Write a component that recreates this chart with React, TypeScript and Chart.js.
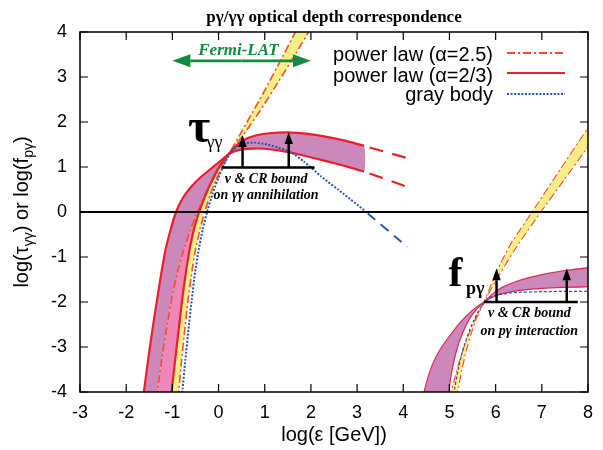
import React, { useEffect, useRef } from 'react';
import { Chart, registerables } from 'chart.js';

Chart.register(...registerables);

// ---------- axis ticks ----------
const xTicks = [-3, -2, -1, 0, 1, 2, 3, 4, 5, 6, 7, 8];
const yTicks = [-4, -3, -2, -1, 0, 1, 2, 3, 4];

// ---------- tau_gamma-gamma : power law alpha=2/3 (solid red band) ----------
const tauLowX = [-1.7, -1.61, -1.5, -1.39, -1.27, -1.16, -1.04, -0.92, -0.78, -0.6, -0.4, -0.18, 0.0, 0.2, 0.32, 0.5, 0.75, 1.0, 1.3, 1.7, 2.1, 2.6, 3.15];
const tauLowY = [-4.6, -3.94, -3.1, -2.33, -1.55, -0.9, -0.4, 0.0, 0.3, 0.55, 0.76, 0.95, 1.1, 1.27, 1.34, 1.39, 1.41, 1.405, 1.37, 1.29, 1.19, 1.06, 0.9];
const tauHighX = [-1.06, -1.01, -0.93, -0.85, -0.77, -0.69, -0.61, -0.52, -0.42, -0.3, -0.16, 0.0, 0.1, 0.2, 0.35, 0.55, 0.8, 1.1, 1.5, 1.9, 2.4, 2.8, 3.15];
const tauHighY = [-4.5, -3.94, -3.2, -2.5, -1.8, -1.22, -0.74, -0.33, 0.0, 0.33, 0.66, 0.98, 1.13, 1.27, 1.44, 1.6, 1.7, 1.75, 1.77, 1.74, 1.66, 1.57, 1.47];
const tauExtX = [3.15, 4.08];
const tauHighExtY = [1.47, 1.2];
const tauLowExtY = [0.9, 0.56];

// ---------- tau : power law alpha=2.5 (dash-dot, yellow band) ----------
const tauSteepAX = [-1.4, -1.32, -1.22, -1.11, -1.0, -0.88, -0.77, -0.62, -0.46, -0.3, -0.12, 0.05, 0.2, 0.4, 0.6, 0.9, 1.3, 1.65, 1.95, 2.15];
const tauSteepAY = [-4.5, -3.94, -3.2, -2.5, -1.85, -1.3, -0.9, -0.42, 0.0, 0.36, 0.72, 1.03, 1.24, 1.52, 1.8, 2.25, 2.9, 3.48, 4.0, 4.35];
const tauSteepBX = [-0.92, -0.86, -0.8, -0.73, -0.66, -0.58, -0.5, -0.4, -0.3, -0.18, -0.05, 0.08, 0.2, 0.33, 0.47, 0.7, 1.0, 1.35, 1.65, 1.82];
const tauSteepBY = [-4.5, -3.94, -3.3, -2.6, -1.95, -1.35, -0.84, -0.38, 0.0, 0.38, 0.72, 1.0, 1.24, 1.48, 1.73, 2.15, 2.7, 3.38, 3.97, 4.3];

// ---------- tau : gray body (blue dotted) ----------
const tauGrayX = [-0.84, -0.78, -0.72, -0.65, -0.58, -0.51, -0.43, -0.34, -0.25, -0.13, 0.0, 0.12, 0.25, 0.4, 0.58, 0.8, 1.05, 1.3, 1.55, 1.85, 2.22, 2.7, 3.15];
const tauGrayY = [-4.5, -3.94, -3.3, -2.6, -1.95, -1.35, -0.84, -0.38, 0.0, 0.4, 0.77, 1.06, 1.3, 1.45, 1.53, 1.54, 1.5, 1.43, 1.34, 1.12, 0.79, 0.41, 0.04];
const tauGrayExtX = [3.15, 4.08];
const tauGrayExtY = [0.04, -0.77];

// ---------- f_p-gamma : power law alpha=2/3 ----------
const fpLowX = [4.36, 4.45, 4.55, 4.66, 4.8, 4.97, 5.22, 5.5, 5.75, 6.0, 6.35, 6.72, 7.3, 8.0];
const fpLowY = [-4.5, -4.0, -3.62, -3.32, -3.05, -2.8, -2.47, -2.18, -2.0, -1.86, -1.77, -1.72, -1.68, -1.66];
const fpHighX = [4.93, 4.98, 5.06, 5.16, 5.28, 5.42, 5.58, 5.75, 5.92, 6.15, 6.43, 6.72, 7.1, 7.5, 8.0];
const fpHighY = [-4.5, -4.0, -3.5, -3.05, -2.7, -2.4, -2.17, -2.0, -1.83, -1.67, -1.55, -1.46, -1.37, -1.3, -1.24];

// ---------- f_p-gamma : power law alpha=2.5 ----------
const fpSteepAX = [4.97, 5.01, 5.1, 5.22, 5.35, 5.48, 5.62, 5.75, 5.92, 6.1, 6.5, 6.98, 7.5, 8.0];
const fpSteepAY = [-4.5, -4.1, -3.75, -3.3, -2.9, -2.55, -2.25, -2.0, -1.68, -1.36, -0.7, 0.0, 0.74, 1.45];
const fpSteepBX = [5.14, 5.18, 5.26, 5.36, 5.47, 5.58, 5.67, 5.75, 5.86, 5.97, 6.15, 6.35, 6.79, 7.4, 8.0];
const fpSteepBY = [-4.5, -4.0, -3.55, -3.1, -2.7, -2.38, -2.18, -2.0, -1.72, -1.45, -1.05, -0.67, 0.0, 0.95, 1.87];

// ---------- f_p-gamma : gray body ----------
const fpGrayX = [5.06, 5.1, 5.18, 5.28, 5.4, 5.52, 5.64, 5.75, 5.88, 6.05, 6.4, 7.0, 8.0];
const fpGrayY = [-4.5, -4.0, -3.55, -3.1, -2.72, -2.42, -2.18, -2.02, -1.9, -1.84, -1.79, -1.77, -1.76];

// ---------- reference line y = 0 ----------
const zeroX = [-3, 8];
const zeroY = [0, 0];

// ---------- bounds / arrows ----------
const tauBoundX = [0.07, 2.08];
const tauBoundY = 0.99;
const tauArrowX = [0.52, 1.52];
const tauArrowTop = [1.71, 1.78];
const fpBoundX = [5.75, 7.78];
const fpBoundY = -2.0;
const fpArrowX = [6.02, 7.54];
const fpArrowTop = [-1.25, -1.25];
const fermiX = [-1.0, 2.0];
const fermiY = 3.36;

// ---------- legend ----------
const legendLabels = ['power law (\u03b1=2.5)', 'power law (\u03b1=2/3)', 'gray body'];

const SANS = '"Liberation Sans", Arial, sans-serif';
const SERIF = '"Liberation Serif", "Times New Roman", serif';

const C_MAGENTA = '#cc88bb';
const C_PINK = '#ee88bb';
const C_YELLOW = '#f8ee88';
const C_RED = '#e8202a';
const C_DASHDOT = '#f0502a';
const C_BLUE = '#2a55b5';
const C_FPEDGE = '#dd2a55';
const C_GREEN = '#168a3e';
const DASHDOT = [8, 3, 2, 3];
const DOTS = [2, 1.6];

const pts = (xs: number[], ys: number[]) => xs.map((x, i) => ({ x, y: ys[i] }));

function polygon(edge1: { x: number; y: number }[], edge2: { x: number; y: number }[]) {
  const a = edge1;
  const b = [...edge2].reverse();
  return [
    { x: -3, y: -12 },
    { x: a[0].x, y: -12 },
    ...a,
    ...b,
    { x: b[b.length - 1].x, y: -12 },
    { x: 8, y: -12 },
  ];
}

function lineDs(data: any[], color: string, width: number, dash: number[] = [], order = 5, extra: any = {}) {
  return {
    data,
    borderColor: color,
    borderWidth: width,
    borderDash: dash,
    backgroundColor: color,
    pointRadius: 0,
    fill: false,
    order,
    ...extra,
  };
}

function fillDs(data: any[], color: string, order: number) {
  return {
    data,
    borderColor: 'transparent',
    borderWidth: 0,
    backgroundColor: color,
    pointRadius: 0,
    fill: 'shape',
    order,
  };
}

const crossIdxA = tauSteepAX.indexOf(0.2);
const crossIdxB = tauHighX.indexOf(0.2);

function arrow(ctx: CanvasRenderingContext2D, x1: number, y1: number, x2: number, y2: number, lw: number, hl: number, hw: number, color: string) {
  const ang = Math.atan2(y2 - y1, x2 - x1);
  const bx = x2 - Math.cos(ang) * hl;
  const by = y2 - Math.sin(ang) * hl;
  ctx.strokeStyle = color;
  ctx.fillStyle = color;
  ctx.lineWidth = lw;
  ctx.beginPath();
  ctx.moveTo(x1, y1);
  ctx.lineTo(bx, by);
  ctx.stroke();
  ctx.beginPath();
  ctx.moveTo(x2, y2);
  ctx.lineTo(bx + Math.sin(ang) * hw, by - Math.cos(ang) * hw);
  ctx.lineTo(bx - Math.sin(ang) * hw, by + Math.cos(ang) * hw);
  ctx.closePath();
  ctx.fill();
}

const decor = {
  id: 'decor',
  afterDatasetsDraw(chart: any) {
    const { ctx, chartArea: a, scales } = chart;
    const X = (v: number) => scales.x.getPixelForValue(v);
    const Y = (v: number) => scales.y.getPixelForValue(v);
    ctx.save();
    // frame
    ctx.strokeStyle = '#000';
    ctx.lineWidth = 1.5;
    ctx.strokeRect(a.left, a.top, a.right - a.left, a.bottom - a.top);
    // inward ticks, all sides
    ctx.lineWidth = 1.2;
    ctx.beginPath();
    for (const v of xTicks) {
      const p = X(v);
      ctx.moveTo(p, a.bottom); ctx.lineTo(p, a.bottom - 8);
      ctx.moveTo(p, a.top); ctx.lineTo(p, a.top + 8);
    }
    for (const v of yTicks) {
      const p = Y(v);
      ctx.moveTo(a.left, p); ctx.lineTo(a.left + 8, p);
      ctx.moveTo(a.right, p); ctx.lineTo(a.right - 8, p);
    }
    ctx.stroke();

    // bound bars
    ctx.lineWidth = 2.5;
    ctx.strokeStyle = '#000';
    ctx.beginPath();
    ctx.moveTo(X(tauBoundX[0]), Y(tauBoundY));
    ctx.lineTo(X(tauBoundX[1]), Y(tauBoundY));
    ctx.moveTo(X(fpBoundX[0]), Y(fpBoundY));
    ctx.lineTo(X(fpBoundX[1]), Y(fpBoundY));
    ctx.stroke();
    tauArrowX.forEach((v, i) => arrow(ctx, X(v), Y(tauBoundY), X(v), Y(tauArrowTop[i]), 2.5, 12, 4.2, '#000'));
    fpArrowX.forEach((v, i) => arrow(ctx, X(v), Y(fpBoundY), X(v), Y(fpArrowTop[i]), 2.5, 12, 4.2, '#000'));

    // Fermi-LAT double arrow
    const fmid = (X(fermiX[0]) + X(fermiX[1])) / 2;
    arrow(ctx, fmid, Y(fermiY), X(fermiX[0]), Y(fermiY), 2.8, 18, 6.5, C_GREEN);
    arrow(ctx, fmid, Y(fermiY), X(fermiX[1]), Y(fermiY), 2.8, 18, 6.5, C_GREEN);
    ctx.font = `bold italic 17px ${SERIF}`;
    ctx.textAlign = 'center';
    ctx.textBaseline = 'alphabetic';
    ctx.fillStyle = C_GREEN;
    ctx.fillText('Fermi-LAT', X(0.43), Y(3.49));

    // tau label
    ctx.fillStyle = '#000';
    ctx.textAlign = 'left';
    ctx.font = `bold 48px ${SERIF}`;
    ctx.fillText('\u03c4', X(-0.66), Y(1.56));
    ctx.font = `18px ${SERIF}`;
    ctx.fillText('\u03b3\u03b3', X(-0.26), Y(1.42));
    // f label
    ctx.font = `bold 42px ${SERIF}`;
    ctx.fillText('f', X(4.98), Y(-1.64));
    ctx.font = `bold 18px ${SERIF}`;
    ctx.fillText('p\u03b3', X(5.36), Y(-1.82));

    // bound captions
    ctx.textAlign = 'center';
    ctx.font = `bold italic 14px ${SERIF}`;
    ctx.fillText('\u03bd & CR bound', X(1.03), Y(0.644));
    ctx.fillText('on \u03b3\u03b3 annihilation', X(1.03), Y(0.29));
    ctx.fillText('\u03bd & CR bound', X(6.73), Y(-2.333));
    ctx.fillText('on p\u03b3 interaction', X(6.73), Y(-2.733));
    ctx.restore();
  },
  afterDraw(chart: any) {
    const { ctx, chartArea: a } = chart;
    ctx.save();
    // title
    ctx.fillStyle = '#000';
    ctx.textAlign = 'center';
    ctx.textBaseline = 'alphabetic';
    ctx.font = `bold 17px ${SERIF}`;
    ctx.fillText('p\u03b3/\u03b3\u03b3 optical depth correspondence', (a.left + a.right) / 2, 22);

    // legend
    const baselines = [61, 82, 101];
    const sampleY = [53, 73, 94];
    ctx.font = `20px ${SANS}`;
    ctx.textAlign = 'right';
    legendLabels.forEach((t, i) => ctx.fillText(t, a.right - 95, baselines[i]));
    const sx0 = a.right - 81, sx1 = a.right - 23;
    ctx.lineWidth = 1.8; ctx.strokeStyle = C_DASHDOT; ctx.setLineDash(DASHDOT);
    ctx.beginPath(); ctx.moveTo(sx0, sampleY[0]); ctx.lineTo(sx1, sampleY[0]); ctx.stroke();
    ctx.lineWidth = 2.2; ctx.strokeStyle = C_RED; ctx.setLineDash([]);
    ctx.beginPath(); ctx.moveTo(sx0, sampleY[1]); ctx.lineTo(sx1, sampleY[1]); ctx.stroke();
    ctx.lineWidth = 2; ctx.strokeStyle = C_BLUE; ctx.setLineDash(DOTS);
    ctx.beginPath(); ctx.moveTo(sx0, sampleY[2]); ctx.lineTo(sx1, sampleY[2]); ctx.stroke();
    ctx.setLineDash([]);

    // y axis title with subscripts
    const parts: [string, number, number][] = [
      ['log(\u03c4', 20, 0], ['\u03b3\u03b3', 14, 5], [') or log(f', 20, 0], ['p\u03b3', 14, 5], [')', 20, 0],
    ];
    let total = 0;
    for (const [t, s] of parts) { ctx.font = `${s}px ${SANS}`; total += ctx.measureText(t).width; }
    ctx.translate(28, (a.top + a.bottom) / 2);
    ctx.rotate(-Math.PI / 2);
    ctx.textAlign = 'left';
    let cx = -total / 2;
    for (const [t, s, dy] of parts) {
      ctx.font = `${s}px ${SANS}`;
      ctx.fillText(t, cx, dy);
      cx += ctx.measureText(t).width;
    }
    ctx.restore();
  },
};

export default function App() {
  const ref = useRef<HTMLCanvasElement>(null);
  useEffect(() => {
    document.body.style.margin = '0';
    const tauLow = pts(tauLowX, tauLowY);
    const tauHigh = pts(tauHighX, tauHighY);
    const sA = pts(tauSteepAX, tauSteepAY);
    const sB = pts(tauSteepBX, tauSteepBY);
    const fLow = pts(fpLowX, fpLowY);
    const fHigh = pts(fpHighX, fpHighY);
    const fA = pts(fpSteepAX, fpSteepAY);
    const fB = pts(fpSteepBX, fpSteepBY);

    const datasets: any[] = [
      fillDs(polygon(tauLow, tauHigh), C_MAGENTA, 30),
      fillDs(polygon(sA, sB), C_YELLOW, 29),
      fillDs(polygon(sA.slice(0, crossIdxA + 1), tauHigh.slice(0, crossIdxB + 1)), C_PINK, 28),
      fillDs(polygon(fLow, fHigh), C_MAGENTA, 27),
      fillDs(polygon(fA, fB), C_YELLOW, 26),
      // dash-dot alpha=2.5
      lineDs(sA, C_DASHDOT, 1.6, DASHDOT, 12),
      lineDs(sB, C_DASHDOT, 1.6, DASHDOT, 12),
      lineDs(fA, C_DASHDOT, 1.1, DASHDOT, 12),
      lineDs(fB, C_DASHDOT, 1.1, DASHDOT, 12),
      // solid alpha=2/3
      lineDs(tauLow, C_RED, 2.2, [], 10),
      lineDs(tauHigh, C_RED, 2.2, [], 10),
      lineDs(pts(tauExtX, tauHighExtY), C_RED, 2.2, [14, 9], 10, { borderDashOffset: 17 }),
      lineDs(pts(tauExtX, tauLowExtY), C_RED, 2.2, [14, 9], 10, { borderDashOffset: 17 }),
      lineDs(fLow, C_FPEDGE, 1.2, [], 10),
      lineDs(fHigh, C_FPEDGE, 1.2, [], 10),
      // gray body
      lineDs(pts(tauGrayX, tauGrayY), C_BLUE, 2, DOTS, 8),
      lineDs(pts(tauGrayExtX, tauGrayExtY), C_BLUE, 2, [10, 7], 8, { borderDashOffset: 12 }),
      lineDs(pts(fpGrayX, fpGrayY), C_BLUE, 1.2, [3, 2], 8),
      // y = 0
      lineDs(pts(zeroX, zeroY), '#000', 2, [], 0, { tension: 0 }),
    ];

    const chart = new Chart(ref.current as HTMLCanvasElement, {
      type: 'line',
      data: { datasets },
      plugins: [decor],
      options: {
        animation: false,
        responsive: false,
        devicePixelRatio: 1,
        events: [],
        layout: { padding: { top: 32, right: 10, left: 0, bottom: 0 } },
        elements: { point: { radius: 0 }, line: { tension: 0.15, capBezierPoints: false } },
        plugins: { legend: { display: false }, tooltip: { enabled: false }, title: { display: false } },
        scales: {
          x: {
            type: 'linear', min: -3, max: 8,
            grid: { display: false, drawTicks: false }, border: { display: false },
            ticks: { stepSize: 1, autoSkip: false, maxRotation: 0, color: '#000', padding: 10, font: { family: SANS, size: 18 } },
            title: { display: true, text: 'log(\u03b5 [GeV])', color: '#000', font: { family: SANS, size: 20 }, padding: { top: 0, bottom: 3 } },
            afterFit: (s: any) => { s.height = 58; },
          },
          y: {
            type: 'linear', min: -4, max: 4,
            grid: { display: false, drawTicks: false }, border: { display: false },
            ticks: { stepSize: 1, color: '#000', padding: 13, font: { family: SANS, size: 18 } },
            afterFit: (s: any) => { s.width = 80; },
          },
        },
      } as any,
    });
    return () => chart.destroy();
  }, []);
  return (
    <div style={{ width: 603, height: 450 }}>
      <canvas ref={ref} width={603} height={450} style={{ display: 'block' }} />
    </div>
  );
}
